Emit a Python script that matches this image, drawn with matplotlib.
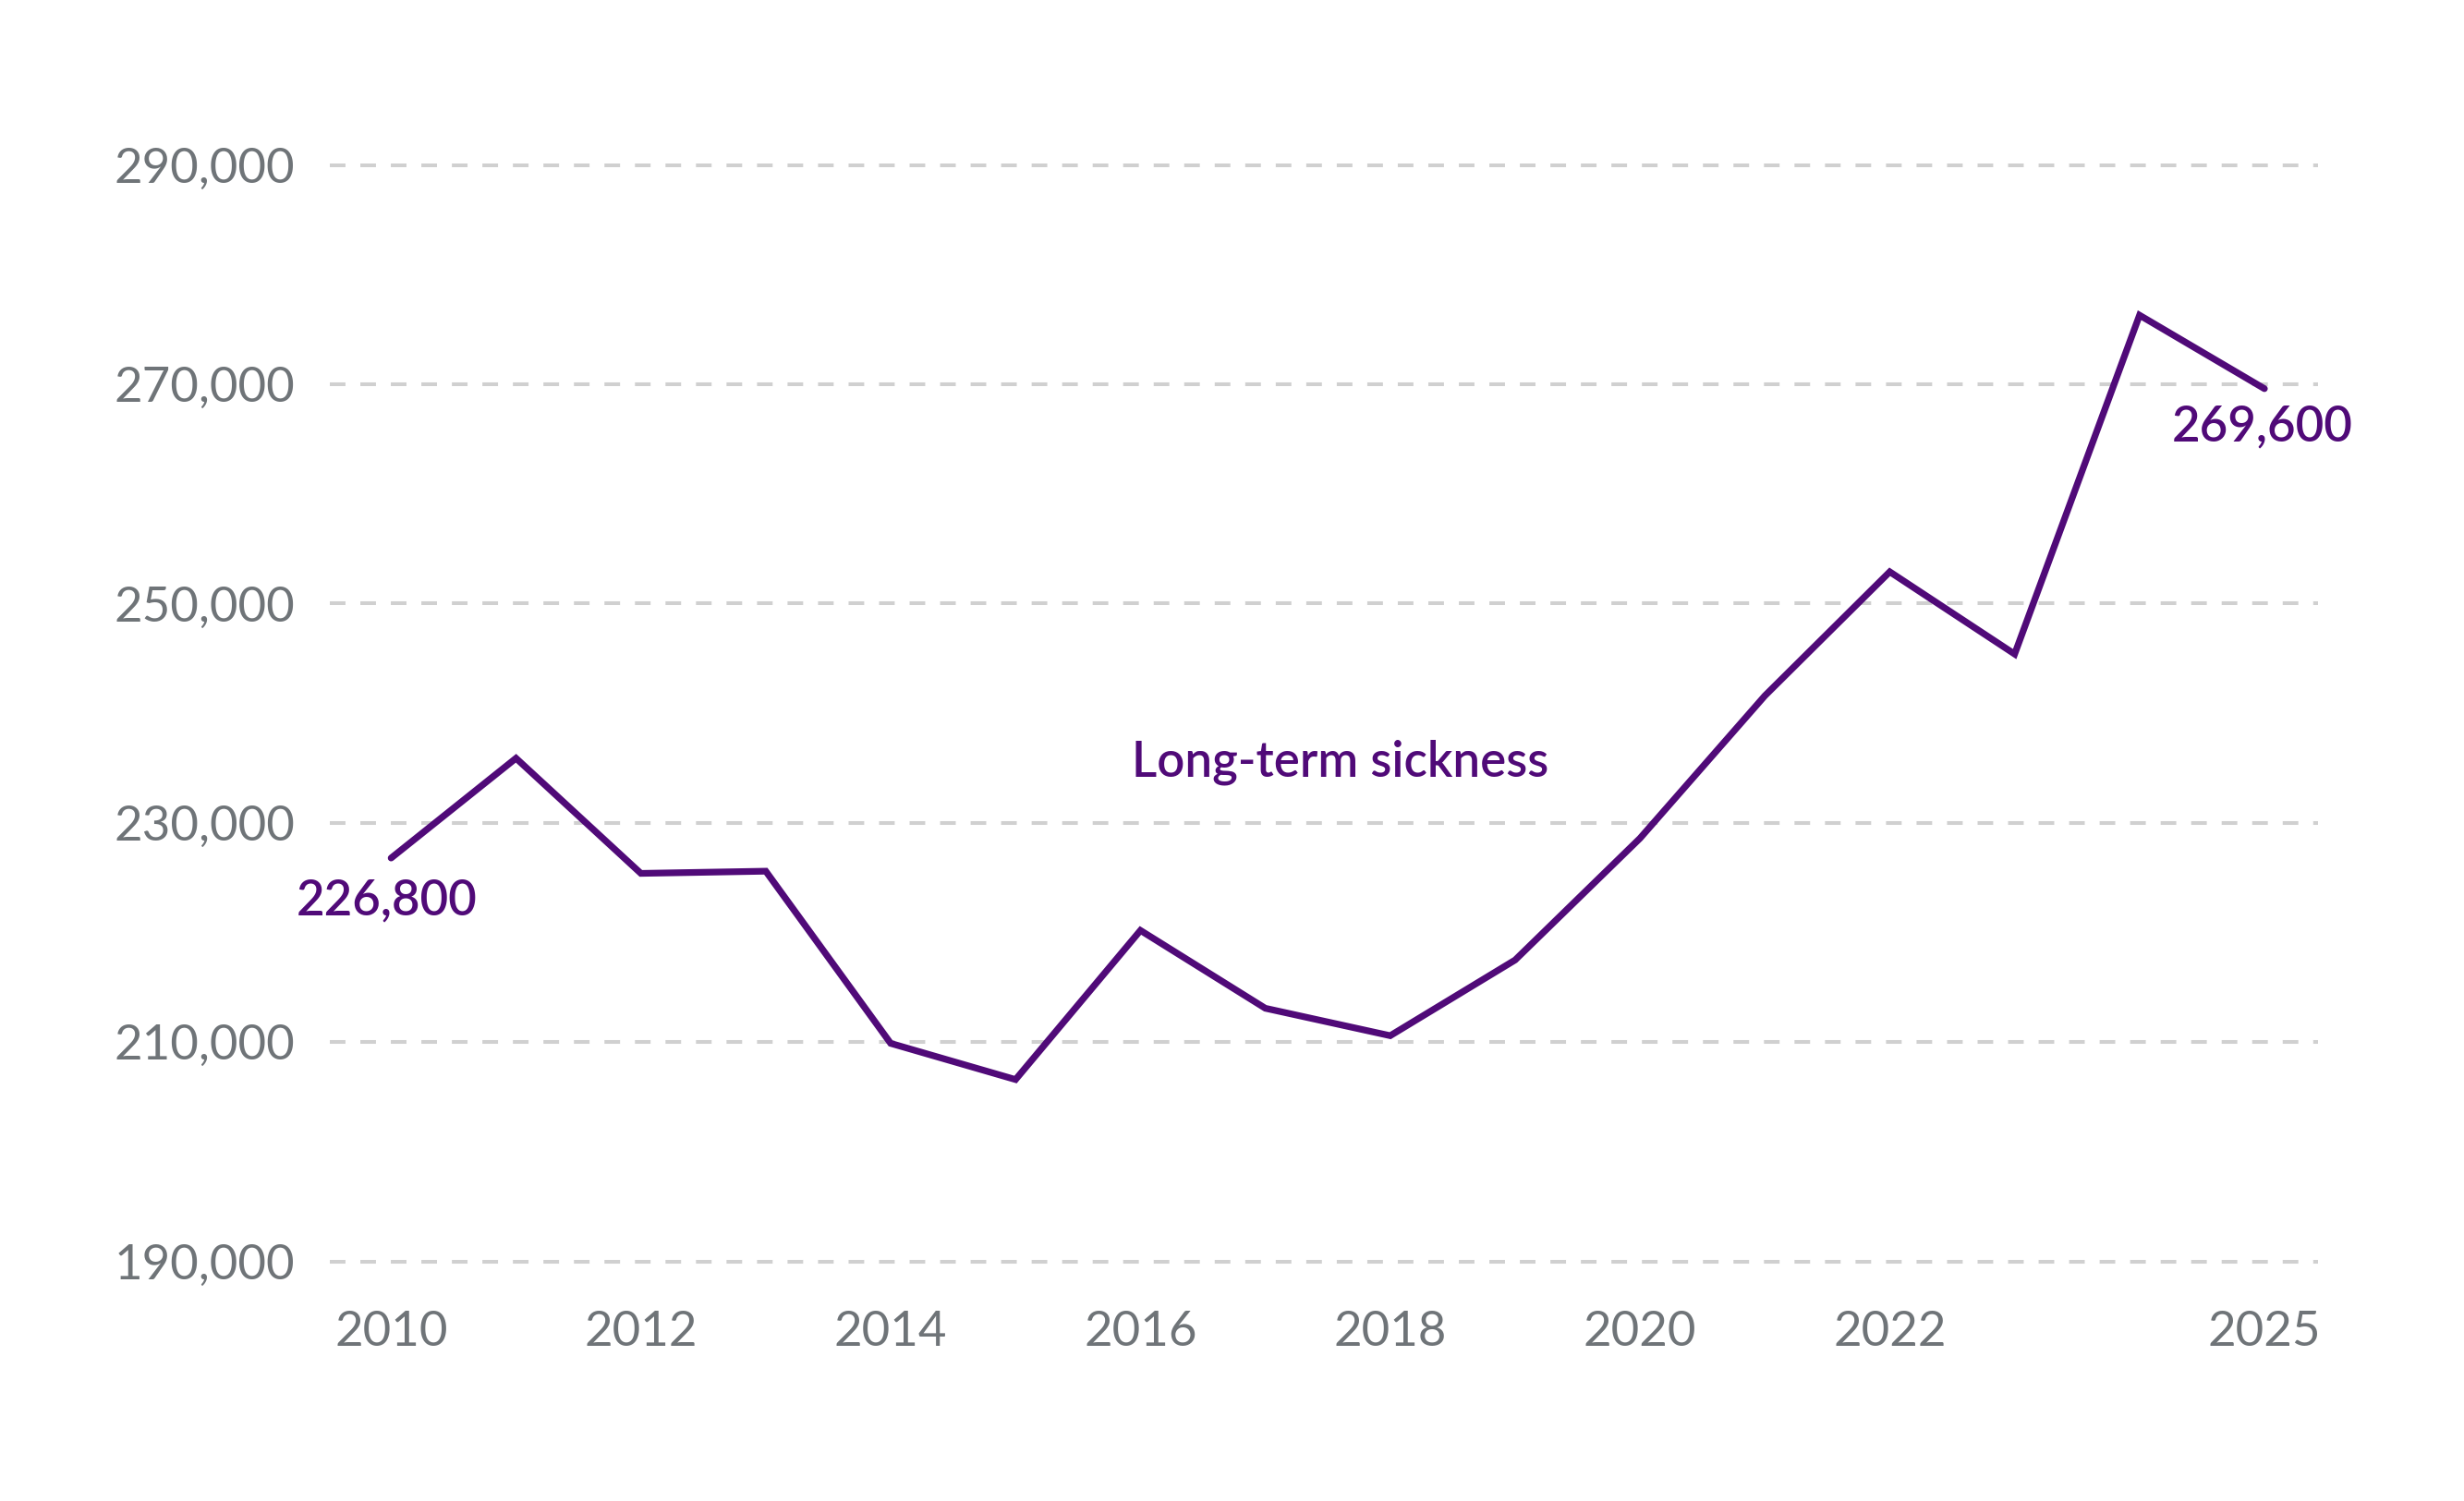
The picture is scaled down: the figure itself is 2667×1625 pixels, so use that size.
import matplotlib.pyplot as plt
from matplotlib.ticker import FuncFormatter

# long-term sickness, values
years = [2010, 2011, 2012, 2013, 2014, 2015, 2016, 2017,
         2018, 2019, 2020, 2021, 2022, 2023, 2024, 2025]
sickness = [226800, 235900, 225400, 225600, 209900, 206600, 220200, 213100,
            210600, 217500, 228600, 241600, 252900, 245400, 276300, 269600]
xticks = [2010, 2012, 2014, 2016, 2018, 2020, 2022, 2025]
yticks = [190000, 210000, 230000, 250000, 270000, 290000]

purple = '#500A78'
grey = '#6F7478'

plt.rcParams['font.family'] = ['Lato', 'DejaVu Sans']

fig = plt.figure(figsize=(26.67, 16.25), dpi=100)
ax = fig.add_axes([0.1339, 0.1595, 0.8069, 0.7306])

ax.plot(years, sickness, color=purple, lw=5.2, solid_capstyle='round',
        solid_joinstyle='miter', zorder=3)

ax.set_xlim(2009.51, 2025.43)
ax.set_ylim(190000, 290000)
ax.set_xticks(xticks)
ax.set_yticks(yticks)
ax.yaxis.set_major_formatter(FuncFormatter(lambda v, p: f'{int(v):,}'))

ax.grid(axis='y', color='#D0D0D0', lw=2.9, linestyle=(0, (4.2, 4.0)))
ax.grid(axis='x', visible=False)
for gl in ax.get_ygridlines():
    gl.set_clip_on(False)
for s in ax.spines.values():
    s.set_visible(False)

ax.tick_params(axis='both', length=0, labelsize=38, labelcolor=grey)
ax.tick_params(axis='y', pad=27)
ax.tick_params(axis='x', pad=38)

# end labels
ax.annotate(f'{sickness[0]:,}', (years[0], sickness[0]), xytext=(-74, -33),
            textcoords='offset points', ha='left', va='center',
            fontsize=38, color=purple, fontweight='semibold')
ax.annotate(f'{sickness[-1]:,}', (years[-1], sickness[-1]), xytext=(-72, -30),
            textcoords='offset points', ha='left', va='center',
            fontsize=38, color=purple, fontweight='semibold')

ax.text(2017.6, 235500, 'Long-term sickness', ha='center', va='center',
        fontsize=38, color=purple, fontweight='semibold')

fig.savefig('out.png', dpi=100, facecolor='white')
